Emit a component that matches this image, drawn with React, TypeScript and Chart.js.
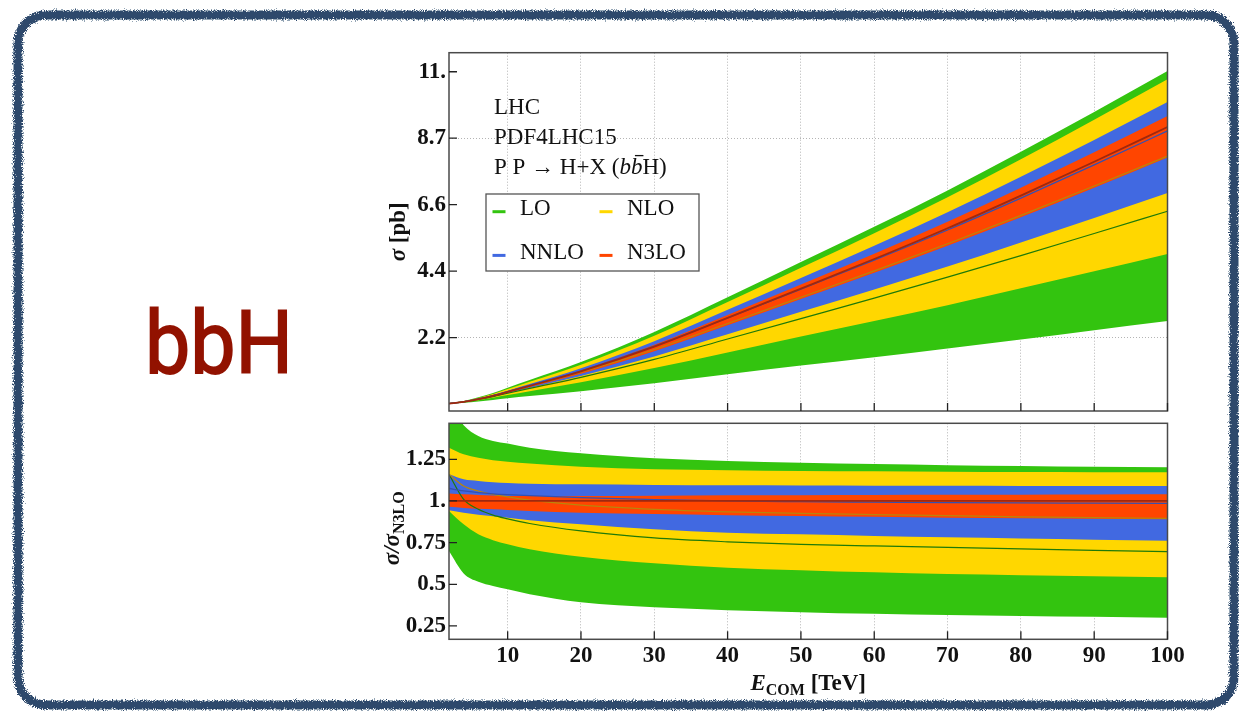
import React, { useEffect, useRef } from "react";
import { Chart, registerables } from "chart.js";

Chart.register(...registerables);

// Collider energy grid (TeV)
const ENERGY_TEV = [2, 4, 6, 8, 10, 13, 20, 30, 40, 50, 60, 70, 80, 90, 100];

// N3LO central cross section (pb)
const N3LO_CENTRAL_PB = [0.015, 0.07, 0.16, 0.27, 0.4, 0.6, 1.08, 1.9, 2.85, 3.82, 4.8, 5.82, 6.9, 8.02, 9.17];

// Scale-variation bands and central values, normalised to the N3LO central value
const LO_HIGH = [1.58, 1.455, 1.39, 1.36, 1.345, 1.32, 1.286, 1.256, 1.24, 1.23, 1.222, 1.215, 1.21, 1.205, 1.202];
const LO_LOW = [0.7, 0.565, 0.515, 0.49, 0.47, 0.44, 0.392, 0.362, 0.345, 0.333, 0.323, 0.316, 0.31, 0.305, 0.3];
const LO_MID = [1.16, 1.01, 0.95, 0.915, 0.893, 0.865, 0.82, 0.778, 0.755, 0.74, 0.73, 0.722, 0.712, 0.704, 0.696];

const NLO_HIGH = [1.32, 1.28, 1.26, 1.245, 1.236, 1.225, 1.206, 1.19, 1.185, 1.18, 1.178, 1.176, 1.174, 1.173, 1.172];
const NLO_LOW = [0.94, 0.86, 0.8, 0.765, 0.74, 0.71, 0.665, 0.626, 0.6, 0.585, 0.572, 0.562, 0.555, 0.548, 0.542];
const NLO_MID = [1.16, 1.09, 1.06, 1.04, 1.025, 1.005, 0.975, 0.95, 0.935, 0.925, 0.918, 0.912, 0.905, 0.9, 0.895];

const NNLO_HIGH = [1.16, 1.13, 1.12, 1.112, 1.108, 1.104, 1.1, 1.096, 1.094, 1.093, 1.092, 1.091, 1.09, 1.09, 1.09];
const NNLO_LOW = [0.945, 0.93, 0.918, 0.908, 0.9, 0.885, 0.86, 0.83, 0.81, 0.8, 0.79, 0.782, 0.775, 0.768, 0.762];
const NNLO_MID = [1.075, 1.06, 1.05, 1.043, 1.038, 1.032, 1.02, 1.008, 1.0, 0.996, 0.993, 0.99, 0.988, 0.987, 0.986];

const N3LO_HIGH = [1.045, 1.04, 1.036, 1.033, 1.03, 1.03, 1.03, 1.032, 1.034, 1.035, 1.036, 1.037, 1.038, 1.039, 1.04];
const N3LO_LOW = [0.965, 0.958, 0.953, 0.95, 0.946, 0.94, 0.93, 0.922, 0.915, 0.91, 0.905, 0.9, 0.896, 0.893, 0.89];
const N3LO_MID = [1, 1, 1, 1, 1, 1, 1, 1, 1, 1, 1, 1, 1, 1, 1];

// Axis ticks
const X_TICK_VALUES = [10, 20, 30, 40, 50, 60, 70, 80, 90, 100];
const TOP_TICK_VALUES = [2.2, 4.4, 6.6, 8.8, 11];
const TOP_TICK_LABELS = ["2.2", "4.4", "6.6", "8.7", "11."];
const TOP_GRID_VALUES = [2.2, 8.8];
const RATIO_TICK_VALUES = [0.25, 0.5, 0.75, 1, 1.25];
const RATIO_TICK_LABELS = ["0.25", "0.5", "0.75", "1.", "1.25"];

const INFO_LINES = ["LHC", "PDF4LHC15"];

const ORDERS = [
  { name: "LO", color: "#33C40F", line: "#1F7A08", width: 1.2, low: LO_LOW, high: LO_HIGH, mid: LO_MID },
  { name: "NLO", color: "#FFD700", line: "#B8860B", width: 1.2, low: NLO_LOW, high: NLO_HIGH, mid: NLO_MID },
  { name: "NNLO", color: "#4169E1", line: "#3550B0", width: 1.3, low: NNLO_LOW, high: NNLO_HIGH, mid: NNLO_MID },
  { name: "N3LO", color: "#FF4500", line: "#A0280E", width: 1.8, low: N3LO_LOW, high: N3LO_HIGH, mid: N3LO_MID },
];

const SERIF = '"Liberation Serif", "Times New Roman", serif';
const TICK_FONT = { family: SERIF, size: 23, weight: "bold" as const };
const GRID_COLOR = "#b4b4b4";
const CLEAR = "rgba(0,0,0,0)";

type Run = { text: string; font: string; dy?: number; overbar?: boolean };

function runsWidth(ctx: CanvasRenderingContext2D, runs: Run[]) {
  let w = 0;
  for (const r of runs) {
    ctx.font = r.font;
    w += ctx.measureText(r.text).width;
  }
  return w;
}

function drawRuns(ctx: CanvasRenderingContext2D, runs: Run[], x: number, y: number) {
  let cx = x;
  for (const r of runs) {
    ctx.font = r.font;
    const w = ctx.measureText(r.text).width;
    ctx.fillText(r.text, cx, y + (r.dy || 0));
    if (r.overbar) {
      ctx.save();
      ctx.lineWidth = 1.3;
      ctx.strokeStyle = ctx.fillStyle as string;
      ctx.beginPath();
      ctx.moveTo(cx + 4, y - 18);
      ctx.lineTo(cx + w + 1, y - 18);
      ctx.stroke();
      ctx.restore();
    }
    cx += w;
  }
}

function buildDatasets(toValue: (ratio: number, i: number) => number) {
  const pts = (arr: number[]) => ENERGY_TEV.map((x, i) => ({ x, y: toValue(arr[i], i) }));
  const common = { pointRadius: 0, cubicInterpolationMode: "monotone" as const };
  const reversed = ORDERS.slice().reverse();
  const lines = reversed.map((o) => ({
    ...common,
    label: o.name + " central",
    data: pts(o.mid),
    borderColor: o.line,
    borderWidth: o.width,
    fill: false,
  }));
  const bands: any[] = [];
  for (const o of reversed) {
    bands.push({ ...common, label: o.name, data: pts(o.high), borderColor: CLEAR, borderWidth: 0, backgroundColor: o.color, fill: "+1" });
    bands.push({ ...common, label: o.name + " low", data: pts(o.low), borderColor: CLEAR, borderWidth: 0, fill: false });
  }
  return [...lines, ...bands];
}

// Plot frame with inward tick marks
const framePlugin = {
  id: "frameTicks",
  afterDatasetsDraw(chart: any) {
    const { ctx, chartArea: a, scales } = chart;
    ctx.save();
    ctx.strokeStyle = "#4a4a4a";
    ctx.lineWidth = 1.5;
    ctx.strokeRect(a.left, a.top, a.right - a.left, a.bottom - a.top);
    ctx.strokeStyle = "#222";
    ctx.lineWidth = 1.3;
    ctx.beginPath();
    for (const t of scales.x.ticks) {
      const px = scales.x.getPixelForValue(t.value);
      ctx.moveTo(px, a.bottom);
      ctx.lineTo(px, a.bottom - 8);
    }
    for (const t of scales.y.ticks) {
      const py = scales.y.getPixelForValue(t.value);
      ctx.moveTo(a.left, py);
      ctx.lineTo(a.left + 8, py);
    }
    ctx.stroke();
    ctx.restore();
  },
};

const REG = `23px ${SERIF}`;
const BOLD = `bold 23px ${SERIF}`;
const BOLD_IT = `italic bold 23px ${SERIF}`;
const IT = `italic 23px ${SERIF}`;
const SUB = `bold 16px ${SERIF}`;

const topDecor = {
  id: "topDecor",
  afterDraw(chart: any) {
    const { ctx, chartArea: a } = chart;
    ctx.save();
    ctx.fillStyle = "#111";
    ctx.textBaseline = "alphabetic";

    // y-axis title
    const title: Run[] = [
      { text: "σ", font: BOLD_IT },
      { text: " [pb]", font: BOLD },
    ];
    ctx.save();
    ctx.translate(a.left - 44, (a.top + a.bottom) / 2);
    ctx.rotate(-Math.PI / 2);
    drawRuns(ctx, title, -runsWidth(ctx, title) / 2, 0);
    ctx.restore();

    // info text
    const tx = a.left + 45;
    ctx.font = REG;
    ctx.fillText(INFO_LINES[0], tx, a.top + 61.3);
    ctx.fillText(INFO_LINES[1], tx, a.top + 91.2);
    drawRuns(
      ctx,
      [
        { text: "P P → H+X (", font: REG },
        { text: "b", font: IT },
        { text: "b", font: IT, overbar: true },
        { text: "H)", font: REG },
      ],
      tx,
      a.top + 120.9
    );

    // legend
    const bx = a.left + 37;
    const by = a.top + 141.3;
    ctx.fillStyle = "#fff";
    ctx.fillRect(bx, by, 213, 77);
    ctx.strokeStyle = "#555";
    ctx.lineWidth = 1.3;
    ctx.strokeRect(bx, by, 213, 77);
    ORDERS.forEach((o, i) => {
      const col = i % 2;
      const row = Math.floor(i / 2);
      const sx = bx + 6.5 + col * 107;
      const sy = by + 17.7 + row * 43.7;
      ctx.strokeStyle = o.color;
      ctx.lineWidth = 3;
      ctx.beginPath();
      ctx.moveTo(sx, sy);
      ctx.lineTo(sx + 13, sy);
      ctx.stroke();
      ctx.fillStyle = "#111";
      ctx.font = REG;
      ctx.fillText(o.name, sx + 27.5, by + 21.2 + row * 43.7);
    });
    ctx.restore();
  },
};

const bottomDecor = {
  id: "bottomDecor",
  afterDraw(chart: any) {
    const { ctx, chartArea: a } = chart;
    ctx.save();
    ctx.fillStyle = "#111";
    ctx.textBaseline = "alphabetic";
    const yTitle: Run[] = [
      { text: "σ/σ", font: BOLD_IT },
      { text: "N3LO", font: SUB, dy: 5 },
    ];
    ctx.save();
    ctx.translate(a.left - 50, (a.top + a.bottom) / 2 - 3);
    ctx.rotate(-Math.PI / 2);
    drawRuns(ctx, yTitle, -runsWidth(ctx, yTitle) / 2, 0);
    ctx.restore();

    const xTitle: Run[] = [
      { text: "E", font: BOLD_IT },
      { text: "COM", font: SUB, dy: 5 },
      { text: " [TeV]", font: BOLD },
    ];
    const w = runsWidth(ctx, xTitle);
    drawRuns(ctx, xTitle, (a.left + a.right) / 2 - w / 2, a.bottom + 50.7);
    ctx.restore();
  },
};

function xAxis(showLabels: boolean, height: number) {
  return {
    type: "linear" as const,
    min: 2,
    max: 100,
    afterBuildTicks: (s: any) => {
      s.ticks = X_TICK_VALUES.map((v) => ({ value: v }));
    },
    afterFit: (s: any) => {
      s.height = height;
      s.paddingLeft = 0;
      s.paddingRight = 0;
    },
    grid: { color: GRID_COLOR, lineWidth: 1, drawTicks: false },
    border: { display: false, dash: [1, 2] },
    ticks: {
      display: showLabels,
      font: TICK_FONT,
      color: "#111",
      padding: 3,
      maxRotation: 0,
      autoSkip: false,
      callback: (v: any) => String(v),
    },
  };
}

function yAxis(min: number, max: number, values: number[], labels: string[], gridValues: number[]) {
  return {
    type: "linear" as const,
    min,
    max,
    afterBuildTicks: (s: any) => {
      s.ticks = values.map((v) => ({ value: v }));
    },
    afterFit: (s: any) => {
      s.width = 69;
      s.paddingTop = 0;
      s.paddingBottom = 0;
    },
    grid: {
      drawTicks: false,
      lineWidth: 1,
      color: (c: any) => (c.tick && gridValues.includes(c.tick.value) ? GRID_COLOR : CLEAR),
    },
    border: { display: false, dash: [1, 2] },
    ticks: {
      font: TICK_FONT,
      color: "#111",
      padding: 3,
      callback: (v: any) => labels[values.indexOf(v)],
    },
  };
}

const BASE_OPTIONS = {
  animation: false as const,
  responsive: false,
  maintainAspectRatio: false,
  events: [] as any[],
  plugins: { legend: { display: false }, tooltip: { enabled: false } },
};

export default function App() {
  const topRef = useRef<HTMLCanvasElement>(null);
  const bottomRef = useRef<HTMLCanvasElement>(null);

  useEffect(() => {
    const top = new Chart(topRef.current as HTMLCanvasElement, {
      type: "line",
      data: { datasets: buildDatasets((r, i) => r * N3LO_CENTRAL_PB[i]) as any },
      options: {
        ...BASE_OPTIONS,
        layout: { padding: { left: 0, top: 12.7, right: 22.5, bottom: 4 } },
        scales: {
          x: xAxis(false, 0),
          y: yAxis(-0.23, 11.63, TOP_TICK_VALUES, TOP_TICK_LABELS, TOP_GRID_VALUES),
        },
      } as any,
      plugins: [framePlugin, topDecor],
    });
    const bottom = new Chart(bottomRef.current as HTMLCanvasElement, {
      type: "line",
      data: { datasets: buildDatasets((r) => r) as any },
      options: {
        ...BASE_OPTIONS,
        layout: { padding: { left: 0, top: 8.3, right: 22.5, bottom: 0 } },
        scales: {
          x: xAxis(true, 65.7),
          y: yAxis(0.17, 1.466, RATIO_TICK_VALUES, RATIO_TICK_LABELS, []),
        },
      } as any,
      plugins: [framePlugin, bottomDecor],
    });
    return () => {
      top.destroy();
      bottom.destroy();
    };
  }, []);

  return (
    <div style={{ position: "absolute", left: 0, top: 0, width: 1239, height: 711, background: "#fff", overflow: "hidden" }}>
      <svg width={1239} height={711} style={{ position: "absolute", left: 0, top: 0 }}>
        <defs>
          <filter id="chalk" x="-2%" y="-2%" width="104%" height="104%">
            <feTurbulence type="fractalNoise" baseFrequency="0.9" numOctaves="2" seed="7" result="noise" />
            <feDisplacementMap in="SourceGraphic" in2="noise" scale="7" xChannelSelector="R" yChannelSelector="G" />
          </filter>
        </defs>
        <rect x={18} y={15} width={1216} height={690} rx={28} ry={28} fill="none" stroke="#2f4a6c" strokeWidth={9} filter="url(#chalk)" />
        <text
          x={145}
          y={373}
          fontFamily="Roboto, 'Liberation Sans', sans-serif"
          fontSize={88}
          fill="#921200"
          stroke="#921200"
          strokeWidth={1.8}
          textLength={148}
          lengthAdjust="spacingAndGlyphs"
        >
          bbH
        </text>
      </svg>
      <canvas ref={topRef} width={810} height={375} style={{ position: "absolute", left: 380, top: 40, width: 810, height: 375 }} />
      <canvas ref={bottomRef} width={810} height={290} style={{ position: "absolute", left: 380, top: 415, width: 810, height: 290 }} />
    </div>
  );
}
